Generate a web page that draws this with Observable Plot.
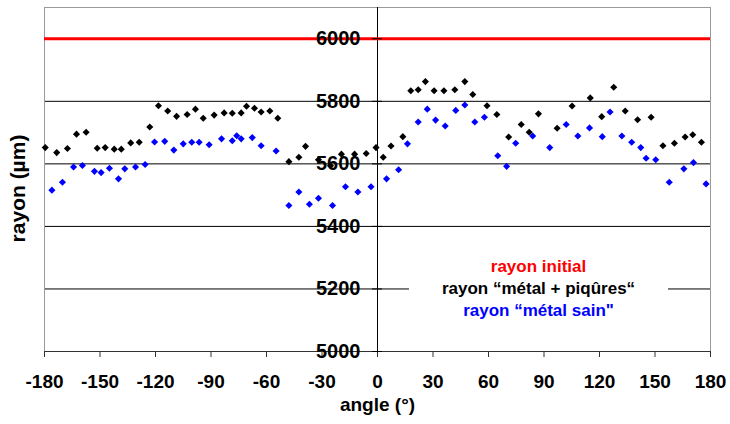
<!DOCTYPE html>
<html><head><meta charset="utf-8">
<script src="https://cdn.jsdelivr.net/npm/d3@7"></script>
<script src="https://cdn.jsdelivr.net/npm/@observablehq/plot@0.6"></script>
<style>
body{margin:0;background:#fff;}
#wrap{position:relative;width:730px;height:424px;font-family:"Liberation Sans",Arial,sans-serif;}
#legend{position:absolute;left:409px;top:255px;width:259px;background:#fff;text-align:center;font-weight:bold;font-size:17px;line-height:22px;padding:1px 0;}
</style></head><body><div id="wrap"></div>
<script>
const xTicks = [-180,-150,-120,-90,-60,-30,0,30,60,90,120,150,180];
const yTicks = [5000,5200,5400,5600,5800,6000];
const gridValues = [5200,5400,5600,5800];
const initialRadius = 6000;

const pitAngle = [-179.6,-173.4,-167.6,-162.7,-157.5,-151.5,-147.2,-142.3,-138.5,-133.4,-128.8,-123.1,-118.4,-113.4,-108.6,-102.9,-98.4,-94.2,-88.3,-82.9,-78.5,-73.7,-70.8,-66.5,-62.9,-58.2,-53.9,-47.9,-42.5,-38.9,-31.9,-25.4,-19.5,-12.4,-6.1,-0.8,3.1,7.3,13.7,18.0,22.0,25.9,30.6,35.9,41.8,47.2,51.5,59.2,64.5,70.9,77.7,82.0,87.0,97.1,105.2,115.0,121.2,127.7,133.9,140.6,147.9,154.3,160.5,166.3,170.4,175.1];
const pitRadius = [5652,5636,5649,5695,5701,5650,5652,5647,5647,5667,5669,5718,5786,5769,5752,5758,5775,5746,5756,5763,5762,5763,5784,5778,5766,5769,5746,5607,5621,5656,5613,5594,5631,5631,5633,5652,5621,5657,5687,5834,5837,5863,5834,5834,5837,5863,5822,5786,5758,5686,5726,5701,5760,5714,5785,5811,5751,5845,5769,5741,5749,5658,5666,5686,5693,5669];

const sainAngle = [-176.0,-170.3,-164.3,-159.5,-153.0,-149.4,-144.9,-140.0,-136.6,-130.8,-125.6,-120.5,-115.0,-110.1,-105.0,-100.4,-96.4,-91.0,-84.3,-78.5,-76.1,-73.7,-67.7,-62.9,-54.8,-47.9,-42.5,-36.8,-31.9,-24.3,-17.3,-10.6,-3.5,4.9,11.4,16.2,22.0,26.9,31.4,36.6,42.3,47.2,52.6,57.8,65.0,69.8,74.7,83.9,93.1,102.0,108.3,114.6,121.5,125.7,132.1,137.4,142.3,145.2,150.4,157.7,165.6,170.8,177.6];
const sainRadius = [5516,5541,5590,5595,5576,5572,5586,5552,5584,5590,5598,5670,5672,5644,5664,5669,5669,5661,5680,5674,5690,5680,5684,5658,5641,5467,5510,5471,5490,5467,5527,5510,5527,5552,5581,5664,5734,5775,5740,5721,5771,5788,5734,5749,5626,5592,5666,5689,5652,5726,5689,5715,5687,5766,5689,5669,5652,5618,5613,5541,5584,5604,5536];

const legendLabels = ["rayon initial", "rayon \u201cmétal + piqûres\u201c", "rayon \u201cmétal sain\""];
const legendColors = ["#ff0000", "#000000", "#0000ff"];
const xLabel = "angle (°)";
const yLabel = "rayon (µm)";

const pit = pitAngle.map((a, i) => ({angle: a, r: pitRadius[i]}));
const sain = sainAngle.map((a, i) => ({angle: a, r: sainRadius[i]}));

const W = 730, H = 424, mL = 44, mR = 20, mT = 7, mB = 73;
const font = "'Liberation Sans', Arial, sans-serif";

const chart = Plot.plot({
  width: W, height: H,
  marginLeft: mL, marginRight: mR, marginTop: mT, marginBottom: mB,
  style: {fontFamily: font, background: "#fff", color: "#000"},
  x: {domain: [-180, 180]},
  y: {domain: [5000, 6100]},
  marks: [
    Plot.gridY(gridValues, {stroke: "#000", strokeOpacity: 1, strokeWidth: 1}),
    Plot.frame({stroke: "#9a9a9a"}),
    Plot.ruleY([5000], {stroke: "#333"}),
    Plot.ruleX([0], {stroke: "#000"}),
    Plot.ruleY([initialRadius], {stroke: "#ff0000", strokeWidth: 3}),
    Plot.dot(pit, {x: "angle", y: "r", symbol: "diamond2", r: 3.2, fill: "#000", stroke: "none"}),
    Plot.dot(sain, {x: "angle", y: "r", symbol: "diamond2", r: 3.2, fill: "#0000ff", stroke: "none"}),
    Plot.axisX({ticks: xTicks, tickSize: 6, tickPadding: 17, tickFormat: d => String(d), label: null,
      fontSize: 19, fontWeight: "bold", stroke: "#333"}),
    Plot.axisY({ticks: yTicks, anchor: "left", tickSize: 10, tickPadding: 12, label: null,
      dx: (W - mL - mR) / 2 + 5, fontSize: 20, fontWeight: "bold", tickFormat: d => String(d)}),
    Plot.text([xLabel], {frameAnchor: "bottom", dy: 59, text: d => d, fontSize: 19, fontWeight: "bold"}),
    Plot.text([yLabel], {frameAnchor: "left", textAnchor: "middle", dx: -26, dy: 9, rotate: -90, text: d => d, fontSize: 21, fontWeight: "bold"})
  ]
});

const wrap = document.getElementById("wrap");
wrap.appendChild(chart);
const legend = document.createElement("div");
legend.id = "legend";
legendLabels.forEach((t, i) => {
  const line = document.createElement("div");
  line.textContent = t;
  line.style.color = legendColors[i];
  legend.appendChild(line);
});
wrap.appendChild(legend);
</script>
</body></html>
